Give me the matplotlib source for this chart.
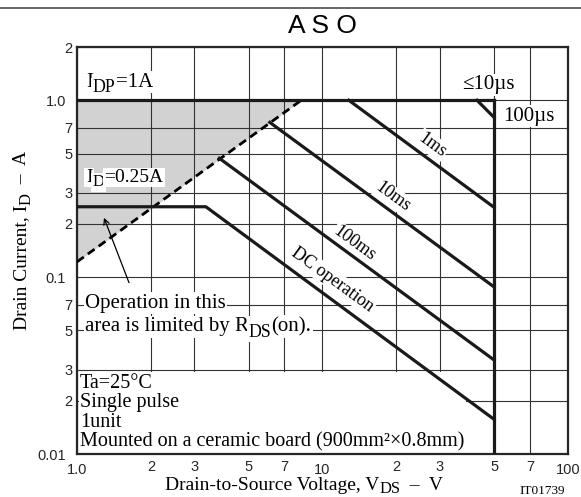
import matplotlib
matplotlib.use('Agg')
import matplotlib.pyplot as plt
import matplotlib.ticker as mticker

plt.rcParams['font.family'] = ['Liberation Serif', 'DejaVu Serif']

# data (V_DS in V, I_D in A)
rds_v = [1.0, 8.2]
rds_i = [0.122, 1.0]
idp_v = [1.0, 50.0]
idp_i = [1.0, 1.0]
vmax_v = [50.0, 50.0]
vmax_i = [0.01, 1.0]
us100_v = [42.6, 50.0]
us100_i = [1.0, 0.80]
ms1_v = [12.8, 50.0]
ms1_i = [1.0, 0.248]
ms10_v = [6.1, 50.0]
ms10_i = [0.75, 0.088]
ms100_v = [3.8, 50.0]
ms100_i = [0.47, 0.034]
dc_v = [1.0, 3.35, 50.0]
dc_i = [0.25, 0.25, 0.0157]

xmajor = [1, 10, 100]
xmajor_lbl = ['1.0', '10', '100']
xminor = [2, 3, 5, 7, 20, 30, 50, 70]
xminor_lbl = ['2', '3', '5', '7', '2', '3', '5', '7']
ymajor = [0.01, 0.1, 1.0]
ymajor_lbl = ['0.01', '0.1', '1.0']
yminor = [0.02, 0.03, 0.05, 0.07, 0.2, 0.3, 0.5, 0.7, 2]
yminor_lbl = ['2', '3', '5', '7', '2', '3', '5', '7', '2']


def chained(ax, xy, coords, parts, fs, rotation=0, box=None, sub_scale=0.85,
            shift=0.22, zorder=2):
    """Write text pieces one after another; (string, True) is a subscript."""
    s0 = parts[0][0]
    first = ax.annotate(s0, xy=xy, xycoords=coords, fontsize=fs,
                        ha='left' if rotation == 0 else 'right',
                        va='baseline' if rotation == 0 else 'bottom',
                        rotation=rotation, bbox=box, zorder=zorder,
                        annotation_clip=False)
    prev = first
    for s, sub in parts[1:]:
        size = fs * sub_scale if sub else fs
        d = shift * fs if sub else 0
        if rotation == 0:
            prev = ax.annotate(s, xy=(1, 0), xycoords=(prev, first),
                               xytext=(0, -d), textcoords='offset points',
                               fontsize=size, ha='left', va='bottom',
                               bbox=box, zorder=zorder, annotation_clip=False)
        else:
            prev = ax.annotate(s, xy=(1, 1), xycoords=(first, prev),
                               xytext=(d, 0), textcoords='offset points',
                               fontsize=size, ha='right', va='bottom',
                               rotation=rotation, bbox=box, zorder=zorder,
                               annotation_clip=False)
    return first


fig = plt.figure(figsize=(5.81, 4.97), dpi=100)
ax = fig.add_axes([0.1325, 0.0865, 0.8451, 0.8189])
ax.set_xscale('log')
ax.set_yscale('log')
ax.set_xlim(1, 100)
ax.set_ylim(0.01, 2)

ax.xaxis.set_major_locator(mticker.FixedLocator(xmajor))
ax.xaxis.set_major_formatter(mticker.FixedFormatter(xmajor_lbl))
ax.xaxis.set_minor_locator(mticker.FixedLocator(xminor))
ax.xaxis.set_minor_formatter(mticker.FixedFormatter(xminor_lbl))
ax.yaxis.set_major_locator(mticker.FixedLocator(ymajor))
ax.yaxis.set_major_formatter(mticker.FixedFormatter(ymajor_lbl))
ax.yaxis.set_minor_locator(mticker.FixedLocator(yminor))
ax.yaxis.set_minor_formatter(mticker.FixedFormatter(yminor_lbl))
ax.tick_params(which='both', length=0, labelsize=10.5, colors='0.15')
ax.tick_params(axis='x', which='major', pad=6.5)
ax.tick_params(axis='x', which='minor', pad=4.5)
ax.tick_params(axis='y', which='major', pad=8)
ax.tick_params(axis='y', which='minor', pad=3.5)
for lbl in ax.get_xticklabels(which='both') + ax.get_yticklabels(which='both'):
    lbl.set_family('Liberation Sans')

ax.grid(True, which='both', color='0.2', lw=0.8, zorder=1)
for s in ax.spines.values():
    s.set_linewidth(1.6)
    s.set_color('0.15')

# limited by RDS(on)
ax.fill_between(rds_v, rds_i, 1.0, color='#d2d2d2', lw=0, zorder=0.5)
ax.plot(rds_v, rds_i, color='k', lw=2.0, ls=(0, (3, 1.8)), zorder=3)

lw = 2.3
ax.plot(idp_v, idp_i, color='0.1', lw=lw, zorder=3)
ax.plot(vmax_v, vmax_i, color='0.1', lw=lw, zorder=3)
ax.plot(us100_v, us100_i, color='0.1', lw=lw, zorder=3)
ax.plot(ms1_v, ms1_i, color='0.1', lw=lw, zorder=3)
ax.plot(ms10_v, ms10_i, color='0.1', lw=lw, zorder=3)
ax.plot(ms100_v, ms100_i, color='0.1', lw=lw, zorder=3)
ax.plot(dc_v, dc_i, color='0.1', lw=lw, zorder=3)

box = dict(facecolor='white', edgecolor='none', pad=1.0)
fs = 15
chained(ax, (0.018, 0.902), 'axes fraction',
        [('I', False), ('DP', True), ('=1A', False)], fs, box=box)
chained(ax, (0.018, 0.668), 'axes fraction',
        [('I', False), ('D', True), ('=0.25A', False)], 14, box=box)
ax.text(0.784, 0.907, '≤10µs', transform=ax.transAxes, fontsize=fs,
        va='center', bbox=box, zorder=2)
ax.text(0.868, 0.830, '100µs', transform=ax.transAxes, fontsize=fs,
        va='center', bbox=box, zorder=2)

rot = -36
rfs = 13
ax.text(0.723, 0.759, '1ms', transform=ax.transAxes, fontsize=rfs,
        rotation=rot, ha='center', va='center', bbox=box, zorder=2)
ax.text(0.644, 0.631, '10ms', transform=ax.transAxes, fontsize=rfs,
        rotation=rot, ha='center', va='center', bbox=box, zorder=2)
ax.text(0.566, 0.518, '100ms', transform=ax.transAxes, fontsize=rfs,
        rotation=rot, ha='center', va='center', bbox=box, zorder=2)
ax.text(0.521, 0.428, 'DC operation', transform=ax.transAxes, fontsize=rfs,
        rotation=rot, ha='center', va='center', bbox=box, zorder=2)

ax.text(0.0163, 0.359, 'Operation in this', transform=ax.transAxes,
        fontsize=fs, va='baseline', bbox=box, zorder=2)
chained(ax, (0.0163, 0.302), 'axes fraction',
        [('area is limited by R', False), ('DS', True), ('(on).', False)],
        fs, box=box)
ax.annotate('', xy=(1.276, 0.224), xytext=(1.644, 0.090),
            arrowprops=dict(arrowstyle='->', color='k', lw=0.9), zorder=4)

ax.text(0.006, 0.006,
        'Ta=25°C\nSingle pulse\n1unit\n'
        'Mounted on a ceramic board (900mm²×0.8mm)',
        transform=ax.transAxes, fontsize=14.5, va='bottom', linespacing=1.04,
        bbox=box, zorder=2)

fig.text(0.5545, 0.947, 'A S O', family='Liberation Sans', fontsize=19,
         ha='center', va='center')
fig.add_artist(plt.Line2D([0, 1], [0.984, 0.984], color='0.3', lw=1.2))
chained(ax, (0.052, 0.336), 'figure fraction',
        [('Drain Current, I', False), ('D', True), ('  –  A', False)],
        14, rotation=90)
chained(ax, (0.284, 0.015), 'figure fraction',
        [('Drain-to-Source Voltage, V', False), ('DS', True),
         ('  –  V', False)], 14, shift=0.17)
fig.text(0.933, 0.001, 'IT01739', family='Liberation Serif', fontsize=9.5,
         ha='center', va='bottom')

fig.savefig('out.png', dpi=100)
